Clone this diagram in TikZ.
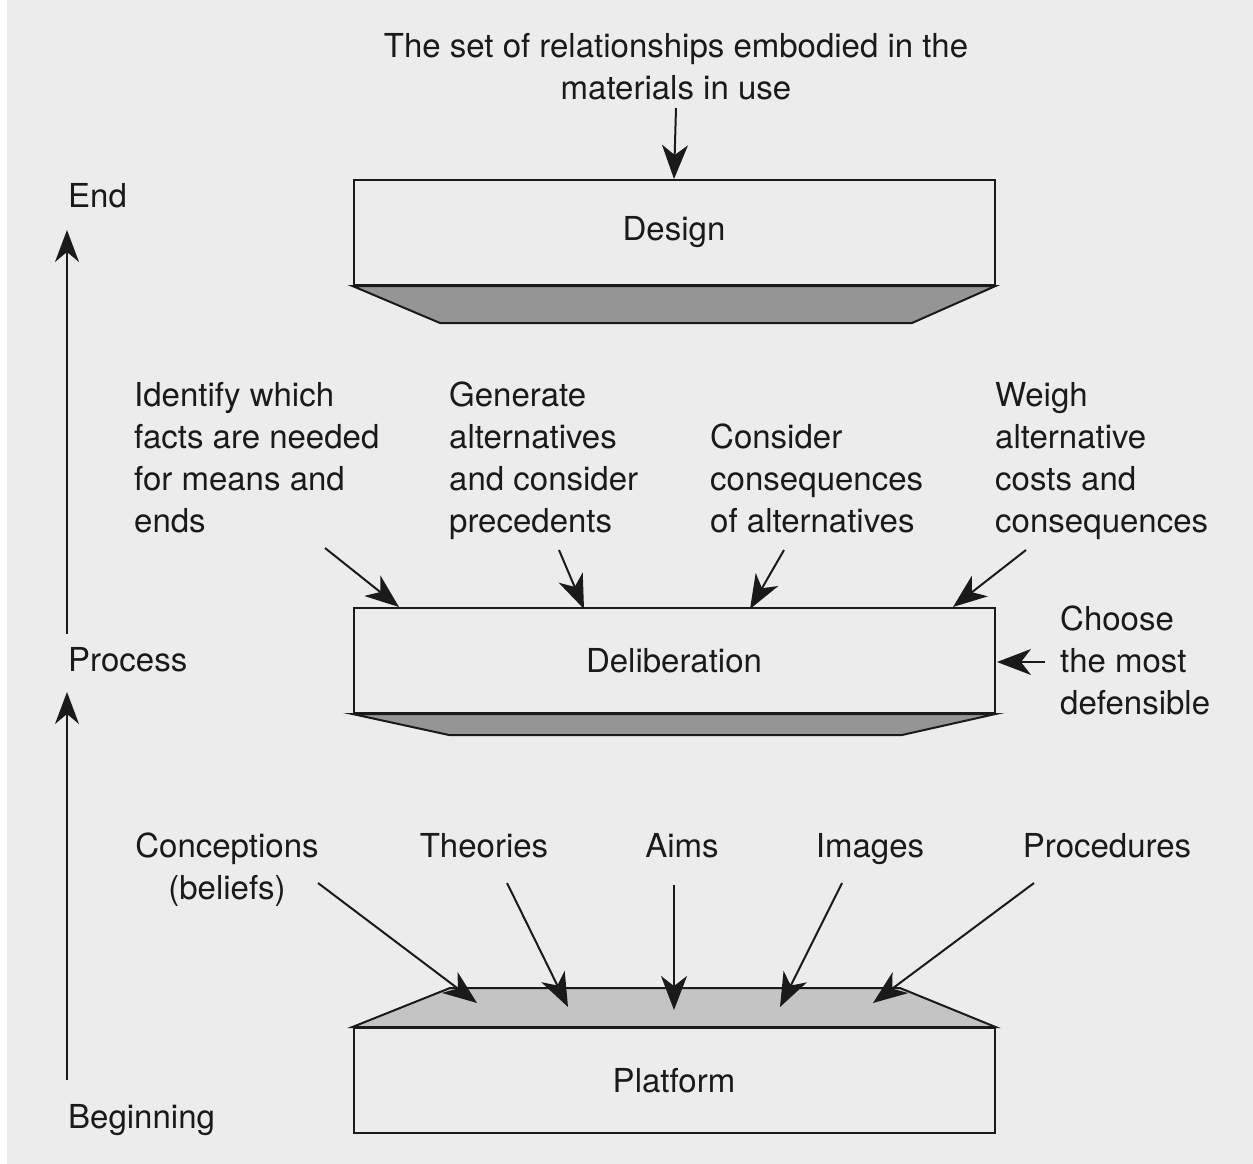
\documentclass[tikz,border=0pt]{standalone}
\usepackage{fontspec}
\setmainfont{TeX Gyre Heros}
\usetikzlibrary{arrows.meta}
\definecolor{paper}{HTML}{ECECEC}
\definecolor{darkshade}{HTML}{959595}
\definecolor{lightshade}{HTML}{C4C4C4}
\definecolor{ink}{HTML}{1A1A1A}
\tikzset{
  label text/.style={inner sep=0pt, font=\fontsize{33}{42}\selectfont, text=ink},
  stagebox/.style={draw=ink, line width=2pt, minimum width=641pt, minimum height=105pt,
    inner sep=0pt, font=\fontsize{33}{42}\selectfont, text=ink},
  feed/.style={draw=ink, line width=2pt, -{Stealth[length=34pt, width=26pt, inset=10pt]}},
  axis/.style={draw=ink, line width=1.8pt, -{Stealth[length=32pt, width=24pt, inset=10pt]}},
}
\begin{document}
\begin{tikzpicture}[x=1pt, y=-1pt]
  % page
  \fill[paper] (0,0) rectangle (1253,1164);
  \fill[white] (0,0) rectangle (7,1164);
  \useasboundingbox (0,0) rectangle (1253,1164);

  % stages
  \node[stagebox] (design) at (674,232.5) {Design};
  \node[stagebox] (delib) at (674,660.5) {Deliberation};
  \node[stagebox] (platform) at (674,1080.5) {Platform};

  % shaded trapezoids
  \filldraw[fill=darkshade, draw=ink, line width=2pt]
    (design.south west) -- (design.south east) -- (912,323) -- (440,323) -- cycle;
  \filldraw[fill=darkshade, draw=ink, line width=2pt]
    (delib.south west) -- (delib.south east) -- (902,735) -- (449,735) -- cycle;
  \filldraw[fill=lightshade, draw=ink, line width=2pt]
    (platform.north west) -- (platform.north east) -- (900,988) -- (450,988) -- cycle;

  % top input
  \node[label text, anchor=north, align=center] (rel) at (676,33)
    {The set of relationships embodied in the\\materials in use};
  \coordinate (relfoot) at (676,108);
  \draw[feed] (relfoot) -- (design.north);

  % deliberation inputs
  \node[label text, anchor=north west, align=left] (identify) at (134,382)
    {Identify which\\facts are needed\\for means and\\ends};
  \node[label text, anchor=north west, align=left] (generate) at (449,382)
    {Generate\\alternatives\\and consider\\precedents};
  \node[label text, anchor=north west, align=left] (consider) at (710,424)
    {Consider\\consequences\\of alternatives};
  \node[label text, anchor=north west, align=left] (weigh) at (995,382)
    {Weigh\\alternative\\costs and\\consequences};
  \node[label text, anchor=north west, align=left] (choose) at (1060,606)
    {Choose\\the most\\defensible};

  \coordinate (idA) at (325,548);   \coordinate (idB) at (399,607);
  \coordinate (geA) at (559,550);   \coordinate (geB) at (584,609);
  \coordinate (coA) at (784,550);   \coordinate (coB) at (750,609);
  \coordinate (weA) at (1026,550);  \coordinate (weB) at (953,607);
  \coordinate (chA) at (1045,662);  \coordinate (chB) at (997,662);
  \draw[feed] (idA) -- (idB);
  \draw[feed] (geA) -- (geB);
  \draw[feed] (coA) -- (coB);
  \draw[feed] (weA) -- (weB);
  \draw[feed] (chA) -- (chB);

  % platform inputs
  \node[label text, anchor=north, align=center] (concept) at (227,833)
    {Conceptions\\(beliefs)};
  \node[label text, anchor=north] (theories) at (484,833) {Theories};
  \node[label text, anchor=north] (aims) at (682,833) {Aims};
  \node[label text, anchor=north] (images) at (870,833) {Images};
  \node[label text, anchor=north] (procs) at (1107,833) {Procedures};

  \coordinate (cnA) at (318,883);   \coordinate (cnB) at (477,1003);
  \coordinate (thA) at (507,883);   \coordinate (thB) at (568,1007);
  \coordinate (aiA) at (674,885);   \coordinate (aiB) at (674,1010);
  \coordinate (imA) at (842,883);   \coordinate (imB) at (780,1007);
  \coordinate (prA) at (1034,883);  \coordinate (prB) at (873,1003);
  \draw[feed] (cnA) -- (cnB);
  \draw[feed] (thA) -- (thB);
  \draw[feed] (aiA) -- (aiB);
  \draw[feed] (imA) -- (imB);
  \draw[feed] (prA) -- (prB);

  % time axis
  \node[label text, anchor=north west] (end) at (68,183) {End};
  \node[label text, anchor=north west] (process) at (68,647) {Process};
  \node[label text, anchor=north west] (begin) at (68,1104) {Beginning};
  \coordinate (axA) at (67,1080);  \coordinate (axB) at (67,692);
  \coordinate (axC) at (67,634);   \coordinate (axD) at (67,230);
  \draw[axis] (axA) -- (axB);
  \draw[axis] (axC) -- (axD);
\end{tikzpicture}
\end{document}
